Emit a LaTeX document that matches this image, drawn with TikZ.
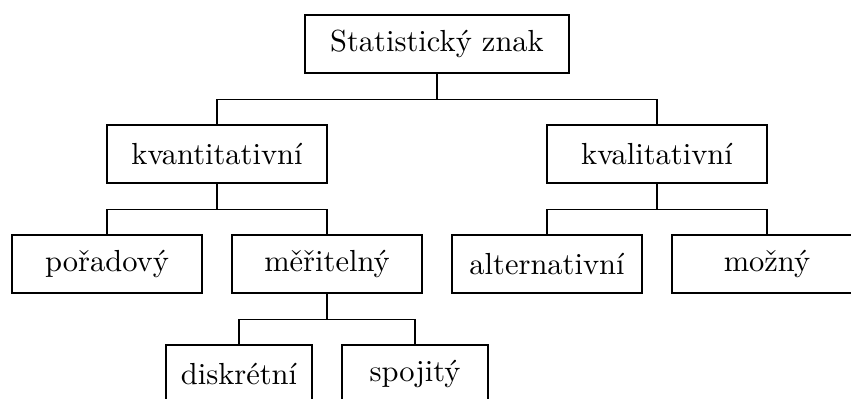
\documentclass[tikz,border=0pt]{standalone}
\newlength{\pxu}
\setlength{\pxu}{0.3279pt}
\begin{document}
\begin{tikzpicture}[x=\pxu, y=-\pxu,
  box/.style={draw, line width=0.45pt, inner sep=0pt, minimum height=58\pxu, font=\fontsize{10}{12}\selectfont},
  lvl0/.style={box, minimum width=264\pxu},
  lvl1/.style={box, minimum width=220\pxu},
  lvl2/.style={box, minimum width=190\pxu},
  lvl3/.style={box, minimum width=146\pxu},
  conn/.style={line width=0.45pt}]
\useasboundingbox (0,0) rectangle (851,399);
\node[lvl0] (top) at (437,44) {Statistický znak};
\node[lvl1] (kvant) at (217,154) {kvantitativní};
\node[lvl1] (kval) at (657,154) {kvalitativní};
\node[lvl2] (por) at (107,264) {pořadový};
\node[lvl2] (mer) at (327,264) {měřitelný};
\node[lvl2] (alt) at (547,264) {alternativní};
\node[lvl2] (moz) at (767,264) {možný};
\node[lvl3] (dis) at (239,374) {diskrétní};
\node[lvl3] (spo) at (415,374) {spojitý};
\draw[conn] (top.south) -- ++(0,26) -| (kvant.north);
\draw[conn] (top.south) -- ++(0,26) -| (kval.north);
\draw[conn] (kvant.south) -- ++(0,26) -| (por.north);
\draw[conn] (kvant.south) -- ++(0,26) -| (mer.north);
\draw[conn] (kval.south) -- ++(0,26) -| (alt.north);
\draw[conn] (kval.south) -- ++(0,26) -| (moz.north);
\draw[conn] (mer.south) -- ++(0,26) -| (dis.north);
\draw[conn] (mer.south) -- ++(0,26) -| (spo.north);
\end{tikzpicture}
\end{document}
